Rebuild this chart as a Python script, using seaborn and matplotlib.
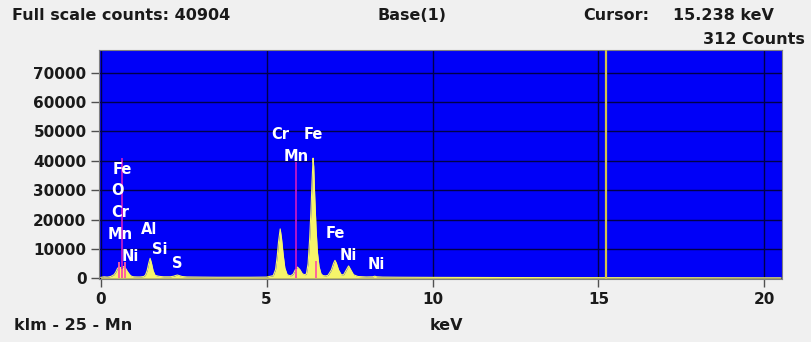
import matplotlib
matplotlib.use("Agg")
import matplotlib.pyplot as plt
import seaborn as sns
import pandas as pd

# ── Spectrum ──────────────────────────────────────────────────────────────────
energy_kev = [0.0, 0.1, 0.2, 0.3, 0.4, 0.45, 0.5, 0.55, 0.6, 0.65, 0.7, 0.75,
              0.8, 0.85, 0.9, 0.95, 1.0, 1.1, 1.2, 1.3, 1.35, 1.40, 1.45, 1.49,
              1.53, 1.58, 1.64, 1.74, 1.8, 1.9, 2.0, 2.1, 2.2, 2.25, 2.31, 2.37,
              2.45, 2.6, 3.0, 3.5, 4.0, 4.5, 5.0, 5.20, 5.27, 5.32, 5.36, 5.41,
              5.45, 5.50, 5.55, 5.62, 5.72, 5.80, 5.87, 5.93, 6.00, 6.08, 6.15,
              6.20, 6.25, 6.30, 6.34, 6.37, 6.40, 6.42, 6.45, 6.49, 6.53, 6.58,
              6.64, 6.70, 6.78, 6.85, 6.95, 7.02, 7.06, 7.10, 7.17, 7.25, 7.32,
              7.40, 7.47, 7.54, 7.62, 7.75, 8.0, 8.2, 8.26, 8.32, 8.5, 9.0,
              10.0, 11.0, 12.0, 14.0, 16.0, 18.0, 20.0, 20.5]
counts = [300, 500, 400, 600, 1200, 2000, 3200, 3900, 3600, 3800, 4000, 3400,
          2400, 1600, 900, 600, 500, 450, 450, 600, 1100, 2600, 5200, 6800,
          5200, 2600, 1000, 700, 600, 500, 500, 500, 700, 900, 1100, 900,
          600, 450, 400, 350, 350, 350, 400, 900, 3000, 7500, 12500, 16800,
          13500, 8000, 3500, 1200, 800, 1400, 3000, 3800, 3000, 1500, 1200,
          1500, 5000, 14000, 24000, 33000, 40900, 38000, 28000, 17000, 9000, 4000,
          1500, 900, 800, 1000, 2800, 5200, 6100, 5200, 2800, 1200, 1200,
          2800, 4200, 2800, 1200, 600, 450, 500, 700, 500, 400, 350,
          300, 280, 250, 220, 200, 180, 150, 150]

# KLM markers for Mn
marker_kev = [0.556, 0.637, 0.721, 5.899, 6.490]
marker_height = [5500, 41000, 5500, 39700, 6000]
marker_major = [False, True, False, True, False]

# peak labels: (element, keV, counts)
peak_labels = [("Fe", 0.66, 37100), ("O", 0.52, 29900), ("Cr", 0.60, 22400),
               ("Mn", 0.60, 15000), ("Ni", 0.88, 7500), ("Al", 1.47, 16700),
               ("Si", 1.78, 9900), ("S", 2.31, 5100), ("Cr", 5.40, 49000),
               ("Fe", 6.40, 49000), ("Mn", 5.90, 41500), ("Fe", 7.06, 15300),
               ("Ni", 7.47, 7800), ("Ni", 8.30, 4800)]

cursor_kev = 15.238
x_ticks = [0, 5, 10, 15, 20]
y_ticks = [0, 10000, 20000, 30000, 40000, 50000, 60000, 70000]

# ── Style ─────────────────────────────────────────────────────────────────────
BG = "#f0f0f0"
BLUE = "#0000f8"
GRID = "#00004a"
YELLOW = "#f6f46a"
TXT = "#1a1a1a"
FS = 11.5

sns.set_style("ticks")
plt.rcParams["font.family"] = ["DejaVu Sans"]

df = pd.DataFrame({"keV": energy_kev, "counts": counts})

fig = plt.figure(figsize=(8.11, 3.42), dpi=100)
fig.patch.set_facecolor(BG)
ax = fig.add_axes([99 / 811, 1 - 279 / 342, 683 / 811, 229 / 342])
ax.set_facecolor(BLUE)

ax.fill_between(df["keV"], 0, df["counts"], color=YELLOW, lw=0, zorder=3)
sns.lineplot(data=df, x="keV", y="counts", ax=ax, color=YELLOW, lw=0.8, zorder=3)

for e, h, major in zip(marker_kev, marker_height, marker_major):
    if major:
        ax.vlines(e, 0, h, color="#c018c8", lw=1.3, zorder=4)
        ax.vlines(e, 0, 3000, color="#ff5aa0", lw=1.3, zorder=5)
    else:
        ax.vlines(e, 0, h, color="#ff5aa0", lw=1.3, zorder=4)

ax.axvline(cursor_kev, color="#d2c24a", lw=1.6, zorder=6)

for name, e, h in peak_labels:
    ax.text(e, h, name, color="white", fontsize=10.5, fontweight="bold",
            ha="center", va="center", zorder=7)

ax.set_xlim(-0.05, 20.53)
ax.set_ylim(-250, 77700)
ax.set_xticks(x_ticks)
ax.set_yticks(y_ticks)
ax.set_xticklabels([str(t) for t in x_ticks])
ax.set_yticklabels([str(t) for t in y_ticks])
ax.grid(True, color=GRID, lw=1.0, zorder=1)
ax.set_axisbelow(True)
ax.tick_params(axis="both", length=6, width=1, color="#505050",
               labelsize=11, labelcolor=TXT, pad=3)
for lab in ax.get_xticklabels() + ax.get_yticklabels():
    lab.set_fontweight("bold")
for side, spine in ax.spines.items():
    spine.set_color("#808080")
    spine.set_linewidth(0.8)
ax.set_xlabel("")
ax.set_ylabel("")

# header / footer texts
def label(x, y, s, ha="left"):
    fig.text(x / 811, 1 - y / 342, s, fontsize=FS, fontweight="bold",
             color=TXT, ha=ha, va="center")

label(12, 15, "Full scale counts: 40904")
label(412, 15, "Base(1)", ha="center")
label(583, 15, "Cursor:")
label(774, 15, f"{cursor_kev:.3f} keV", ha="right")
label(805, 40, "312 Counts", ha="right")
label(14, 326, "klm - 25 - Mn")
label(446, 326, "keV", ha="center")

fig.savefig("out.png", dpi=100, facecolor=BG)
